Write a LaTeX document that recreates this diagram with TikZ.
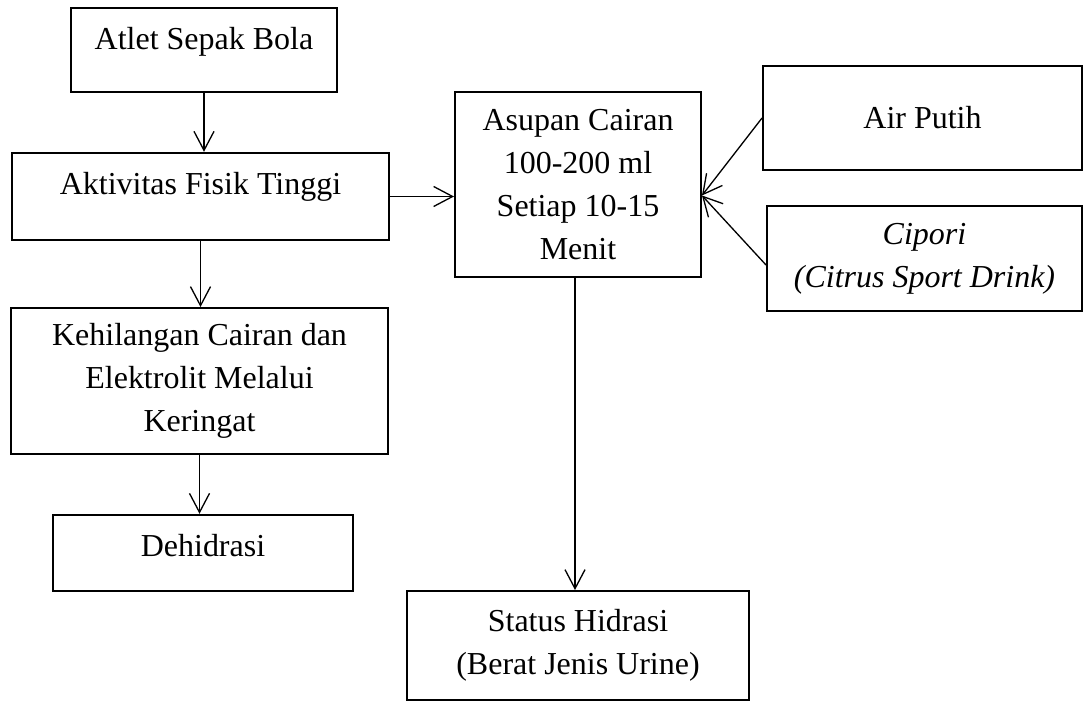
\documentclass[tikz,border=0pt]{standalone}
\usepackage{fontspec}
\setmainfont{Liberation Serif}
\usetikzlibrary{arrows.meta}

\begin{document}
\begin{tikzpicture}[>={Straight Barb[length=0.38cm,width=0.4cm]},
  every node/.style={font=\fontsize{18.2}{24.5}\selectfont,align=center},
  box/.style={draw,line width=1.1pt,inner sep=0pt},
  topbox/.style={box,text height=0.83cm},
  link/.style={->,line width=0.75pt}]
  \useasboundingbox (0,0) rectangle (21.68,-14.04);
  \node[topbox,minimum width=5.32cm,text depth=0.85cm] (atlet) at (4.08,-1.00) {Atlet Sepak Bola};
  \node[topbox,minimum width=7.54cm,text depth=0.92cm] (aktivitas) at (4.01,-3.93) {Aktivitas Fisik Tinggi};
  \node[box,minimum width=7.54cm,minimum height=2.92cm] (kehilangan) at (3.99,-7.62) {
    Kehilangan Cairan dan\\
    Elektrolit Melalui\\
    Keringat
  };
  \node[topbox,minimum width=6.0cm,text depth=0.70cm] (dehidrasi) at (4.06,-11.06) {Dehidrasi};
  \node[box,minimum width=4.92cm,minimum height=3.71cm] (asupan) at (11.56,-3.69) {
    Asupan Cairan\\
    100-200 ml\\
    Setiap 10-15\\
    Menit
  };
  \node[box,minimum width=6.38cm,minimum height=2.08cm] (airputih) at (18.45,-2.36) {Air Putih};
  \node[box,minimum width=6.30cm,minimum height=2.10cm] (cipori) at (18.49,-5.17) {
    \textit{Cipori}\\
    \textit{(Citrus Sport Drink)}
  };
  \node[box,minimum width=6.84cm,minimum height=2.18cm] (status) at (11.56,-12.91) {
    Status Hidrasi\\
    (Berat Jenis Urine)
  };
  \coordinate (masuk) at ([yshift=-0.22cm]asupan.east);
  \draw[link] (atlet.south) -- (atlet.south |- aktivitas.north);
  \draw[link] (aktivitas.south) -- (aktivitas.south |- kehilangan.north);
  \draw[link] (kehilangan.south) -- (kehilangan.south |- dehidrasi.north);
  \draw[link] (aktivitas.east) -- (aktivitas.east -| asupan.west);
  \draw[link] (airputih.west) -- (masuk);
  \draw[link] ([yshift=-0.13cm]cipori.west) -- (masuk);
  \draw[link] ([xshift=-0.06cm]asupan.south) -- ([xshift=-0.06cm]status.north);
\end{tikzpicture}
\end{document}
